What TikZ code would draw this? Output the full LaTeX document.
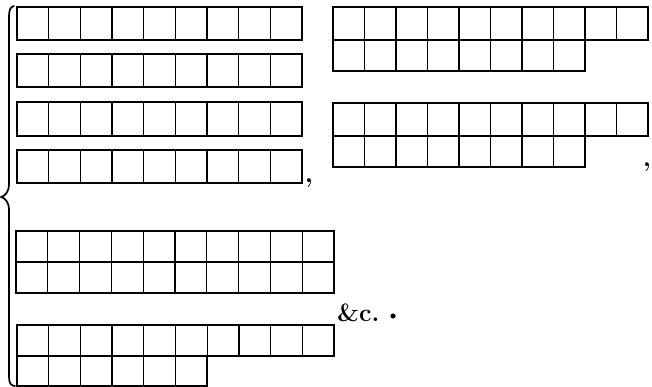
\documentclass[tikz,border=0pt]{standalone}
\usepackage{tikz}
\tikzset{
  cellline/.style={line width=1.3pt},
  frameline/.style={line width=1.5pt},
  braceline/.style={line width=1.7pt, line cap=round, line join=round},
  punct/.style={inner sep=0pt, font=\fontsize{26}{26}\selectfont\bfseries},
}
% #1 x0, #2 cell width, #3 y top, #4 y bottom, #5 number of cells
\newcommand\cellrow[5]{%
  \draw[frameline] (#1,#3) rectangle ({#1+#5*#2},#4);
  \foreach \k in {1,...,#5}{%
    \draw[cellline] ({#1+\k*#2},#3) -- ({#1+\k*#2},#4);
  }%
}
\begin{document}
\begin{tikzpicture}[x=1pt,y=-1pt]
\useasboundingbox (0,0) rectangle (652,387);
\fill[white] (0,0) rectangle (652,387);

% brace
\draw[braceline] (14,6) .. controls (10,7) and (9,10) .. (9,18) -- (9,184)
  .. controls (9,192) and (5,196) .. (1,197)
  .. controls (5,198) and (9,202) .. (9,210) -- (9,377)
  .. controls (9,383) and (11,386) .. (15,386);

% left top group: four rows of nine
\cellrow{17}{31.67}{7}{40}{9}
\cellrow{17}{31.67}{54}{87}{9}
\cellrow{17}{31.67}{102}{136}{9}
\cellrow{17}{31.67}{150}{183}{9}
\node[punct, anchor=base] (c1) at (309,183) {,};

% right top group 1
\cellrow{333}{31.5}{7}{40}{10}
\cellrow{333}{31.5}{40}{71}{8}
% right top group 2
\cellrow{333}{31.5}{103}{136}{10}
\cellrow{333}{31.5}{136}{167}{8}
\node[punct, anchor=base] (c2) at (647,167) {,};

% bottom group A
\cellrow{16}{31.8}{231}{262}{10}
\cellrow{16}{31.8}{262}{293}{10}
% bottom group B
\cellrow{17}{31.7}{325}{356}{10}
\cellrow{17}{31.7}{356}{386}{6}

% text
\node[anchor=base west, inner sep=0pt, font=\fontsize{25}{25}\selectfont\bfseries] (etc) at (337,321) {\&c.};
\fill (393,316) circle (2.6);
\end{tikzpicture}
\end{document}
